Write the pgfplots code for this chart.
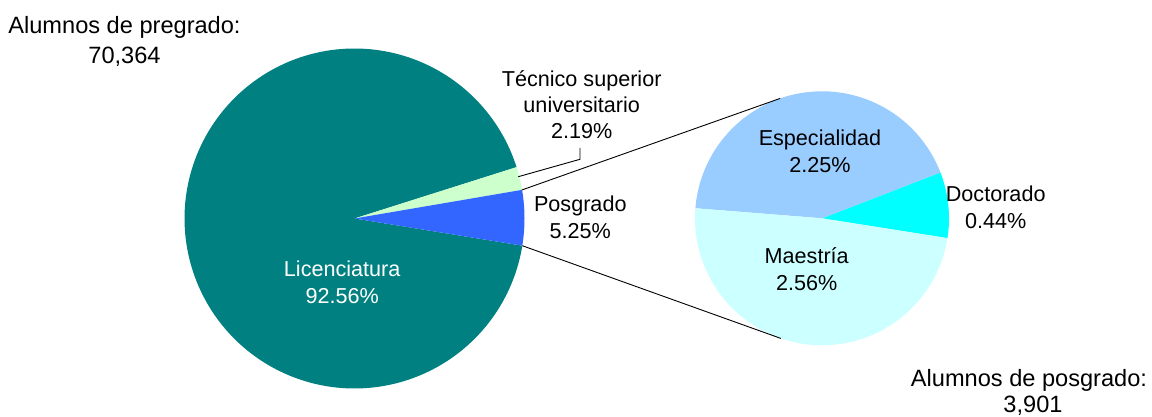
\documentclass[border=0pt]{standalone}
\usepackage{pgfplots}
\pgfplotsset{compat=1.18}
\usepackage{fontspec}
\setmainfont{Liberation Sans}
\definecolor{cLic}{HTML}{008080}
\definecolor{cTec}{HTML}{CCFFCC}
\definecolor{cPos}{HTML}{3366FF}
\definecolor{cEsp}{HTML}{99CCFF}
\definecolor{cDoc}{HTML}{00FFFF}
\definecolor{cMae}{HTML}{CCFFFF}
% data (percent of all students)
\def\vLic{92.56}
\def\vTec{2.19}
\def\vPos{5.25}
\def\vEsp{2.25}
\def\vMae{2.56}
\def\vDoc{0.44}
% geometry (1 unit = 1 px of the reference)
\def\cxA{354.5}\def\cyA{198.5}\def\rA{170}
\def\cxB{822}\def\cyB{198.7}\def\rB{127}
\pgfmathsetmacro{\aPosS}{-9.2}
\pgfmathsetmacro{\aPosE}{\aPosS+\vPos*3.6}
\pgfmathsetmacro{\aTecE}{\aPosE+\vTec*3.6}
\pgfmathsetmacro{\aLicE}{\aTecE+\vLic*3.6}
\pgfmathsetmacro{\bDocS}{-9.0}
\pgfmathsetmacro{\bDocE}{\bDocS+\vDoc/\vPos*360}
\pgfmathsetmacro{\bEspE}{\bDocE+\vEsp/\vPos*360}
\pgfmathsetmacro{\bMaeE}{\bEspE+\vMae/\vPos*360}
\newcommand{\labf}{\fontsize{21.6}{26}\selectfont}
\newcommand{\boxf}{\fontsize{23.6}{29}\selectfont}
\begin{document}
\begin{tikzpicture}
\useasboundingbox (0,0) rectangle (1152pt,417pt);
\begin{axis}[at={(0,0)}, anchor=south west, width=1152pt, height=417pt,
  scale only axis, xmin=0, xmax=1152, ymin=0, ymax=417, hide axis, clip=false]
% left pie
\addplot[fill=cLic, draw=none, domain=\aTecE:\aLicE, samples=200, variable=\t]
  ({\cxA+\rA*cos(\t)},{\cyA+\rA*sin(\t)}) -- (axis cs:\cxA,\cyA) -- cycle;
\addplot[fill=cTec, draw=none, domain=\aPosE:\aTecE, samples=20, variable=\t]
  ({\cxA+\rA*cos(\t)},{\cyA+\rA*sin(\t)}) -- (axis cs:\cxA,\cyA) -- cycle;
\addplot[fill=cPos, draw=none, domain=\aPosS:\aPosE, samples=30, variable=\t]
  ({\cxA+\rA*cos(\t)},{\cyA+\rA*sin(\t)}) -- (axis cs:\cxA,\cyA) -- cycle;
% right pie
\addplot[fill=cDoc, draw=none, domain=\bDocS:\bDocE, samples=40, variable=\t]
  ({\cxB+\rB*cos(\t)},{\cyB+\rB*sin(\t)}) -- (axis cs:\cxB,\cyB) -- cycle;
\addplot[fill=cEsp, draw=none, domain=\bDocE:\bEspE, samples=120, variable=\t]
  ({\cxB+\rB*cos(\t)},{\cyB+\rB*sin(\t)}) -- (axis cs:\cxB,\cyB) -- cycle;
\addplot[fill=cMae, draw=none, domain=\bEspE:\bMaeE, samples=120, variable=\t]
  ({\cxB+\rB*cos(\t)},{\cyB+\rB*sin(\t)}) -- (axis cs:\cxB,\cyB) -- cycle;
% connector lines
\addplot[black, line width=0.9pt] coordinates {(522.1,227.1) (780.2,318.6)};
\addplot[black, line width=0.9pt] coordinates {(522.3,171.3) (780.8,78.6)};
% leader line
\addplot[black, line width=0.9pt] coordinates {(518.3,240.3) (580,257.7) (580,269)};
% labels
\node[anchor=base, font=\boxf] at (axis cs:124.5,383.5) {Alumnos de pregrado:};
\node[anchor=base, font=\boxf] at (axis cs:124.5,353.7) {70,364};
\node[anchor=base, font=\boxf] at (axis cs:1029,30.7) {Alumnos de posgrado:};
\node[anchor=base, font=\boxf] at (axis cs:1033,4.0) {3,901};
\node[anchor=base, font=\labf] at (axis cs:581.7,330) {Técnico superior};
\node[anchor=base, font=\labf] at (axis cs:581.7,304) {universitario};
\node[anchor=base, font=\labf] at (axis cs:581.7,278) {2.19\%};
\node[anchor=base, font=\labf] at (axis cs:580.3,205.3) {Posgrado};
\node[anchor=base, font=\labf] at (axis cs:580.3,178.7) {5.25\%};
\node[anchor=base, font=\labf, white] at (axis cs:342.2,140.3) {Licenciatura};
\node[anchor=base, font=\labf, white] at (axis cs:342.2,113) {92.56\%};
\node[anchor=base, font=\labf] at (axis cs:820,271.3) {Especialidad};
\node[anchor=base, font=\labf] at (axis cs:820,244.3) {2.25\%};
\node[anchor=base, font=\labf] at (axis cs:806.7,153.7) {Maestría};
\node[anchor=base, font=\labf] at (axis cs:806.7,126.3) {2.56\%};
\node[anchor=base, font=\labf] at (axis cs:995.7,215.3) {Doctorado};
\node[anchor=base, font=\labf] at (axis cs:995.7,188) {0.44\%};
\end{axis}
\end{tikzpicture}
\end{document}
